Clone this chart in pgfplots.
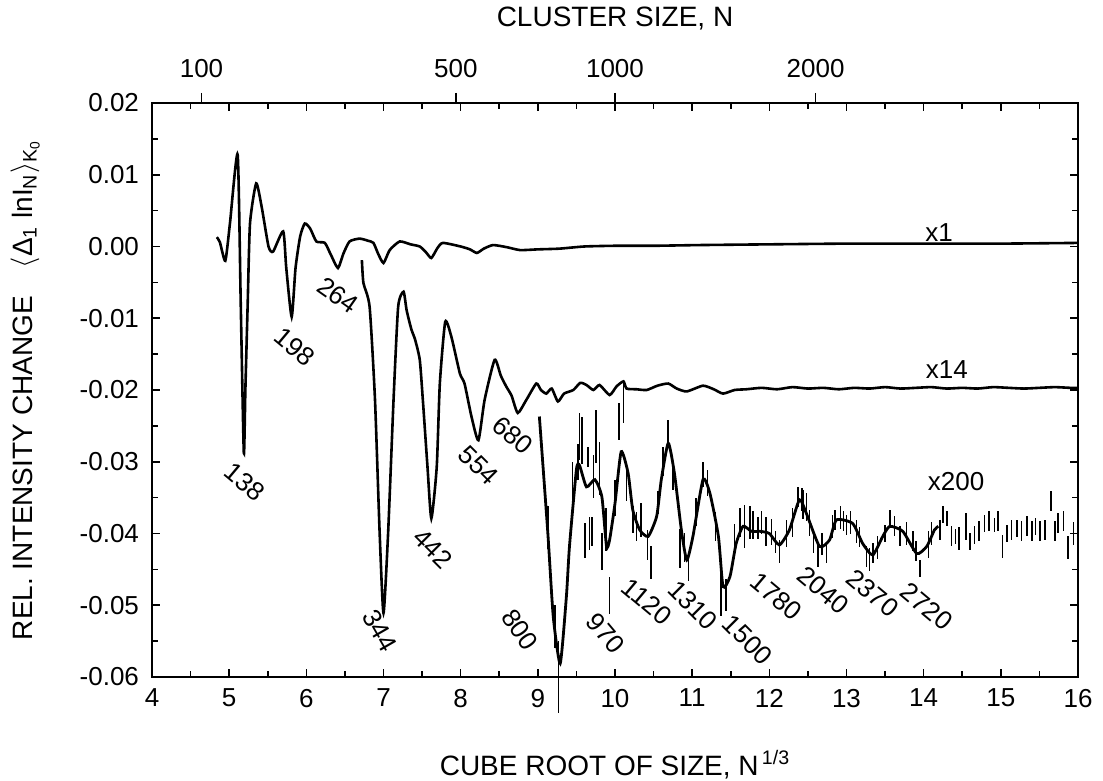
\documentclass[border=0pt]{standalone}
\usepackage{fontspec}
\setmainfont{Liberation Sans}
\usepackage{pgfplots}
\pgfplotsset{compat=1.18}
\pgfplotstableread{
x y
4.84 0.0013
4.88 0.0006
4.95 -0.0020
5.01 0.0032
5.11 0.0128
5.15 -0.0080
5.19 -0.0288
5.21 -0.0200
5.24 -0.0080
5.27 0.0032
5.35 0.0088
5.42 0.0056
5.51 0.0000
5.57 -0.0007
5.70 0.0021
5.74 -0.0030
5.81 -0.0098
5.86 -0.0030
5.92 0.0014
5.98 0.0032
6.05 0.0025
6.13 0.0007
6.24 0.0005
6.32 -0.0012
6.41 -0.0030
6.48 -0.0010
6.56 0.0007
6.69 0.0011
6.80 0.0008
6.87 0.0005
6.93 -0.0010
7.00 -0.0023
7.08 -0.0005
7.21 0.0007
7.35 0.0003
7.47 0.0000
7.55 -0.0008
7.62 -0.0016
7.70 -0.0002
7.77 0.0005
8.00 0.0000
8.12 -0.0004
8.21 -0.0009
8.30 -0.0003
8.42 0.0002
8.60 -0.0001
8.77 -0.0005
9.00 -0.0004
9.28 -0.0003
9.60 0.0000
10.0 0.0001
10.5 0.0001
11.1 0.0002
12.0 0.0003
13.0 0.0004
14.0 0.0004
15.0 0.0004
16.0 0.0005
}\xone
\pgfplotstableread{
x y
6.72 -0.0019
6.74 -0.0051
6.82 -0.0084
6.89 -0.0214
6.95 -0.0399
7.00 -0.0511
7.06 -0.0399
7.13 -0.0214
7.19 -0.0084
7.26 -0.0063
7.30 -0.0089
7.36 -0.0115
7.41 -0.0130
7.47 -0.0158
7.51 -0.0214
7.57 -0.0307
7.62 -0.0379
7.69 -0.0307
7.73 -0.0191
7.80 -0.0105
7.88 -0.0126
7.99 -0.0177
8.05 -0.0191
8.14 -0.0237
8.23 -0.0270
8.31 -0.0214
8.44 -0.0158
8.52 -0.0180
8.59 -0.0195
8.66 -0.0208
8.74 -0.0232
8.85 -0.0214
8.98 -0.0191
9.04 -0.0200
9.11 -0.0205
9.18 -0.0198
9.26 -0.0216
9.34 -0.0205
9.46 -0.0200
9.55 -0.0190
9.63 -0.0193
9.72 -0.0200
9.80 -0.0193
9.93 -0.0207
10.02 -0.0195
10.11 -0.0188
10.15 -0.0198
10.28 -0.0199
10.41 -0.0200
10.55 -0.0194
10.69 -0.0191
10.80 -0.0198
10.93 -0.0202
11.14 -0.0194
11.28 -0.0199
11.40 -0.0205
11.55 -0.0200
11.70 -0.0199
11.9 -0.0197
12.1 -0.0199
12.3 -0.0196
12.5 -0.0198
12.7 -0.0197
12.9 -0.0199
13.1 -0.0197
13.3 -0.0198
13.5 -0.0196
13.7 -0.0198
13.9 -0.0197
14.1 -0.0196
14.3 -0.0198
14.5 -0.0197
14.7 -0.0198
14.9 -0.0196
15.1 -0.0197
15.3 -0.0198
15.5 -0.0197
15.7 -0.0196
15.9 -0.0197
16.0 -0.0197
}\xfourteen
\pgfplotstableread{
x y
9.02 -0.0237
9.13 -0.0400
9.20 -0.0516
9.29 -0.0581
9.37 -0.0488
9.41 -0.0418
9.50 -0.0311
9.54 -0.0305
9.63 -0.0335
9.74 -0.0325
9.83 -0.0349
9.89 -0.0418
9.93 -0.0409
10.00 -0.0358
10.08 -0.0286
10.17 -0.0316
10.23 -0.0367
10.32 -0.0395
10.43 -0.0404
10.54 -0.0376
10.60 -0.0325
10.69 -0.0274
10.77 -0.0316
10.86 -0.0395
10.93 -0.0437
11.01 -0.0404
11.14 -0.0325
11.23 -0.0344
11.34 -0.0404
11.40 -0.0474
11.49 -0.0460
11.57 -0.0414
11.66 -0.0390
11.77 -0.0397
11.88 -0.0397
12.00 -0.0400
12.13 -0.0416
12.26 -0.0395
12.39 -0.0353
12.48 -0.0372
12.65 -0.0418
12.78 -0.0409
12.87 -0.0381
13.08 -0.0386
13.21 -0.0414
13.34 -0.0430
13.47 -0.0404
13.56 -0.0390
13.73 -0.0397
13.91 -0.0428
14.04 -0.0418
14.14 -0.0395
14.19 -0.0390
}\xtwohundred
\pgfplotstableread{
x y e
9.13 -0.0391 0.0030
9.22 -0.0530 0.0030
9.27 -0.0600 0.0050
9.45 -0.0330 0.0030
9.52 -0.0300 0.0025
9.54 -0.0265 0.0033
9.57 -0.0270 0.0033
9.61 -0.0410 0.0024
9.65 -0.0293 0.0014
9.67 -0.0400 0.0023
9.70 -0.0397 0.0020
9.72 -0.0320 0.0030
9.75 -0.0265 0.0037
9.80 -0.0310 0.0037
9.83 -0.0425 0.0026
9.88 -0.0395 0.0030
9.93 -0.0486 0.0026
10.00 -0.0350 0.0025
10.05 -0.0244 0.0026
10.11 -0.0216 0.0030
10.15 -0.0330 0.0025
10.23 -0.0381 0.0019
10.28 -0.0390 0.0020
10.34 -0.0381 0.0024
10.42 -0.0416 0.0021
10.47 -0.0441 0.0023
10.56 -0.0357 0.0016
10.62 -0.0300 0.0020
10.69 -0.0261 0.0019
10.75 -0.0320 0.0020
10.84 -0.0421 0.0027
10.90 -0.0420 0.0020
10.95 -0.0446 0.0020
11.05 -0.0370 0.0020
11.14 -0.0318 0.0017
11.20 -0.0330 0.0018
11.30 -0.0390 0.0020
11.37 -0.0478 0.0037
11.44 -0.0486 0.0022
11.55 -0.0405 0.0018
11.62 -0.0385 0.0020
11.68 -0.0390 0.0030
11.75 -0.0385 0.0023
11.79 -0.0388 0.0020
11.85 -0.0392 0.0015
11.90 -0.0385 0.0016
11.96 -0.0397 0.0020
12.03 -0.0398 0.0018
12.08 -0.0412 0.0015
12.13 -0.0425 0.0016
12.22 -0.0400 0.0019
12.30 -0.0385 0.0020
12.37 -0.0349 0.0014
12.42 -0.0352 0.0016
12.44 -0.0360 0.0020
12.48 -0.0363 0.0019
12.52 -0.0385 0.0018
12.57 -0.0413 0.0014
12.63 -0.0430 0.0016
12.68 -0.0415 0.0015
12.74 -0.0427 0.0014
12.82 -0.0390 0.0016
12.85 -0.0381 0.0014
12.92 -0.0378 0.0016
12.96 -0.0383 0.0014
13.00 -0.0388 0.0014
13.05 -0.0385 0.0016
13.13 -0.0397 0.0016
13.17 -0.0405 0.0014
13.26 -0.0432 0.0014
13.30 -0.0436 0.0016
13.34 -0.0427 0.0014
13.40 -0.0420 0.0016
13.50 -0.0400 0.0012
13.56 -0.0379 0.0012
13.62 -0.0390 0.0014
13.69 -0.0404 0.0014
13.78 -0.0400 0.0016
13.86 -0.0411 0.0014
13.90 -0.0425 0.0014
13.95 -0.0449 0.0012
14.06 -0.0415 0.0019
14.10 -0.0400 0.0016
14.21 -0.0395 0.0014
14.25 -0.0374 0.0012
14.30 -0.0379 0.0010
14.36 -0.0404 0.0014
14.41 -0.0404 0.0010
14.46 -0.0407 0.0016
14.55 -0.0390 0.0019
14.60 -0.0411 0.0012
14.66 -0.0402 0.0012
14.72 -0.0397 0.0014
14.79 -0.0386 0.0012
14.85 -0.0383 0.0014
14.92 -0.0388 0.0010
14.96 -0.0383 0.0014
15.02 -0.0418 0.0016
15.08 -0.0400 0.0012
15.14 -0.0395 0.0014
15.21 -0.0393 0.0012
15.27 -0.0397 0.0014
15.34 -0.0390 0.0014
15.40 -0.0397 0.0014
15.45 -0.0390 0.0012
15.51 -0.0397 0.0014
15.57 -0.0395 0.0014
15.65 -0.0355 0.0014
15.70 -0.0397 0.0014
15.74 -0.0386 0.0014
15.81 -0.0383 0.0014
15.87 -0.0420 0.0016
15.94 -0.0400 0.0016
}\bars
\begin{document}
\begin{tikzpicture}
\path[use as bounding box] (-76pt,-52pt) rectangle (475.5pt,338.5pt);
\begin{axis}[
  at={(0,0)}, anchor=south west,
  scale only axis, width=463pt, height=287pt,
  xmin=4, xmax=16, ymin=-0.06, ymax=0.02,
  clip=false,
  scaled y ticks=false, scaled x ticks=false,
  xtick={4,5,...,16}, minor x tick num=1,
  ytick={-0.06,-0.05,-0.04,-0.03,-0.02,-0.01,0,0.01,0.02},
  yticklabels={-0.06,-0.05,-0.04,-0.03,-0.02,-0.01,0.00,0.01,0.02},
  minor y tick num=1,
  /pgf/number format/assume math mode=true,
  axis line style={line width=1.2pt},
  tick style={black, line width=0.8pt},
  major tick length=4pt, minor tick length=3pt,
  ticklabel style={font=\fontsize{13}{15}\selectfont},
  yticklabel style={xshift=-3pt},
  xticklabel style={yshift=-2.5pt},
  xlabel={CUBE ROOT OF SIZE, N\textsuperscript{\,1/3}},
  ylabel={REL. INTENSITY CHANGE\quad $\langle$Δ\textsubscript{1} lnI\textsubscript{N}$\rangle$\textsubscript{K\textsubscript{0}}},
  label style={font=\fontsize{14}{16}\selectfont},
  xlabel style={at={(axis description cs:0.5,-0.153)}, anchor=center},
  ylabel style={at={(axis description cs:-0.137,0.5)}, anchor=center},
]
\addplot[black, line width=1.3pt, smooth, tension=0.35] table {\xone};
\addplot[black, line width=1.3pt, smooth, tension=0.35] table {\xfourteen};
\addplot[black, line width=1.4pt, smooth, tension=0.35] table {\xtwohundred};
\addplot[draw=none, no markers, forget plot, error bars/.cd, y dir=both, y explicit,
  error mark=none, error bar style={draw=black, solid, line width=0.8pt}]
  table[x=x, y=y, y error=e] {\bars};
\begin{scope}[every node/.style={font=\fontsize{13}{15}\selectfont, inner sep=0pt}]
\node at (axis cs:14.2,0.0020) {x1};
\node at (axis cs:14.3,-0.0172) {x14};
\node at (axis cs:14.42,-0.0328) {x200};
\node[rotate=-40] at (axis cs:5.20,-0.0328) {138};
\node[rotate=-40] at (axis cs:5.85,-0.0140) {198};
\node[rotate=-35] at (axis cs:6.41,-0.0068) {264};
\node[rotate=-60] at (axis cs:6.95,-0.0535) {344};
\node[rotate=-45] at (axis cs:7.64,-0.0421) {442};
\node[rotate=-45] at (axis cs:8.23,-0.0305) {554};
\node[rotate=-40] at (axis cs:8.68,-0.0263) {680};
\node[rotate=-55] at (axis cs:8.77,-0.0534) {800};
\node[rotate=-50] at (axis cs:9.88,-0.0539) {970};
\node[rotate=-40] at (axis cs:10.41,-0.0495) {1120};
\node[rotate=-45] at (axis cs:11.01,-0.0500) {1310};
\node[rotate=-45] at (axis cs:11.72,-0.0548) {1500};
\node[rotate=-40] at (axis cs:12.09,-0.0488) {1780};
\node[rotate=-40] at (axis cs:12.70,-0.0479) {2040};
\node[rotate=-40] at (axis cs:13.34,-0.0483) {2370};
\node[rotate=-40] at (axis cs:14.04,-0.0502) {2720};
\end{scope}
\end{axis}
\begin{axis}[
  at={(0,0)}, anchor=south west,
  scale only axis, width=463pt, height=287pt,
  xmin=4, xmax=16, ymin=0, ymax=1,
  axis x line*=top, axis y line=none,
  axis line style={line width=1.2pt, -},
  scaled x ticks=false,
  xtick={4.6416,7.9370,10,12.5992},
  xticklabels={100,500,1000,2000},
  tick align=outside, major tick length=5pt,
  tick style={black, line width=0.8pt},
  ticklabel style={font=\fontsize{13}{15}\selectfont},
  xticklabel style={yshift=4pt},
  xlabel={CLUSTER SIZE, N},
  label style={font=\fontsize{14}{16}\selectfont},
  xlabel style={at={(axis description cs:0.5,1.148)}, anchor=center},
]
\addplot[draw=none] coordinates {(4,0) (16,1)};
\end{axis}
\end{tikzpicture}
\end{document}
